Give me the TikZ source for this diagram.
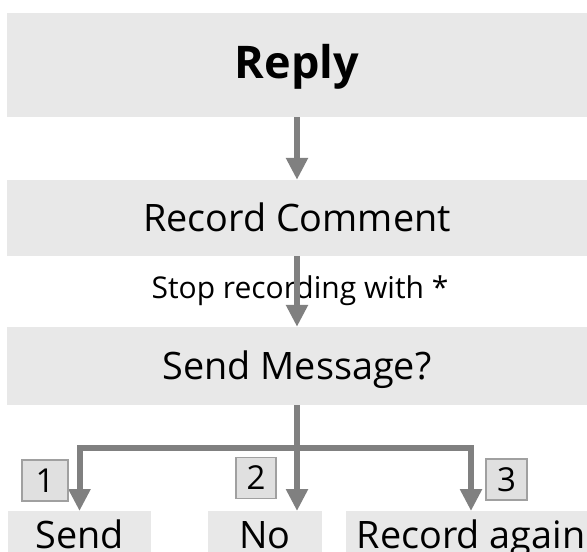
\documentclass[tikz,border=0pt]{standalone}
\usepackage{fontspec}
\setmainfont{Open Sans}
\usetikzlibrary{arrows.meta}
\definecolor{boxgray}{RGB}{232,232,232}
\definecolor{arrowgray}{RGB}{128,128,128}
\definecolor{tagfill}{RGB}{224,224,224}
\definecolor{tagdraw}{RGB}{160,160,160}
\tikzset{
  stage/.style={fill=boxgray, draw=none, inner sep=0pt, minimum width=580pt,
    text height=27pt, text depth=0pt,
    font=\fontsize{37.8}{40}\selectfont},
  leaf/.style={fill=boxgray, draw=none, anchor=north, inner xsep=0pt, inner ysep=10pt,
    text height=27pt, text depth=20pt,
    font=\fontsize{37.8}{40}\selectfont},
  tag/.style={fill=tagfill, draw=tagdraw, line width=1.2pt, inner sep=0pt,
    minimum height=41pt, text height=23pt, text depth=0pt,
    font=\fontsize{33}{35}\selectfont},
  flow/.style={draw=arrowgray, line width=6pt},
  flowarrow/.style={flow, -{Triangle[width=21pt,length=22pt]}, arrowgray},
}
\begin{document}
\begin{tikzpicture}[x=1pt,y=-1pt]
\useasboundingbox (0,0) rectangle (587,552);

% main stages
\node[stage, minimum height=104pt, font=\fontsize{45}{48}\selectfont\bfseries] (reply) at (297,65) {Reply};
\node[stage, minimum height=76pt] (record) at (297,218) {Record Comment};
\node[stage, minimum height=78pt] (ask) at (297,366) {Send Message?};

% outcome boxes (run off the bottom edge)
\node[leaf, minimum width=143pt] (send) at (79.5,511) {Send};
\node[leaf, minimum width=114pt] (no) at (265,511) {No};
\node[leaf, minimum width=250pt] (again) at (471,511) {Record again};

% connectors
\draw[flowarrow] (reply.south) -- (record.north);
\node[font=\fontsize{30}{32}\selectfont, text height=20pt, text depth=0pt, inner sep=0pt]
  (stoplabel) at (300,288) {Stop recording with *};
\draw[flowarrow] (record.south) -- (ask.north);

\coordinate (fork) at (297,448);
\draw[flow] (ask.south) -- (fork);
\draw[flowarrow] (fork) -| (send.north);
\draw[flowarrow] (fork) -| (again.north);
\draw[flowarrow] (fork) -- (fork |- no.north);

% key numbers
\node[tag, minimum width=46pt] (k1) at (45,480.5) {1};
\node[tag, minimum width=40pt] (k2) at (256,478) {2};
\node[tag, minimum width=41pt] (k3) at (506.5,479.5) {3};
\end{tikzpicture}
\end{document}
